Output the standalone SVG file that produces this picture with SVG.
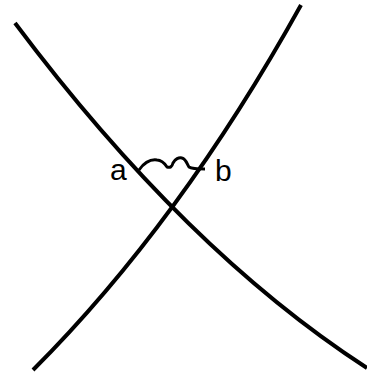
<svg xmlns="http://www.w3.org/2000/svg" width="367" height="377" viewBox="0 0 367 377">
<style>
.curve{fill:none;stroke:#000;stroke-width:4;stroke-linecap:butt}
.wave{fill:none;stroke:#000;stroke-width:3;stroke-linejoin:round}
.lbl{font-family:"Liberation Sans",Arial,sans-serif;font-size:30px;fill:#000}
</style>
<rect width="367" height="377" fill="#fff"/>
<g id="connectors">
<path id="curve1" class="curve" d="M15,23 Q185,250 367,368"/>
<path id="curve2" class="curve" d="M33,370 Q180,223 301,5"/>
<path id="wave" class="wave" d="M139,170 C144,163 150,159 157,160 C162,160 165,164 167,167 C170,168 172,167 173,163 C175,159 179,157 182,158 C186,159 187,164 189,167 C192,169 198,169 205,169"/>
</g>
<g id="label-a"><text class="lbl" x="110" y="180">a</text></g>
<g id="label-b"><text class="lbl" x="215" y="181">b</text></g>
</svg>
